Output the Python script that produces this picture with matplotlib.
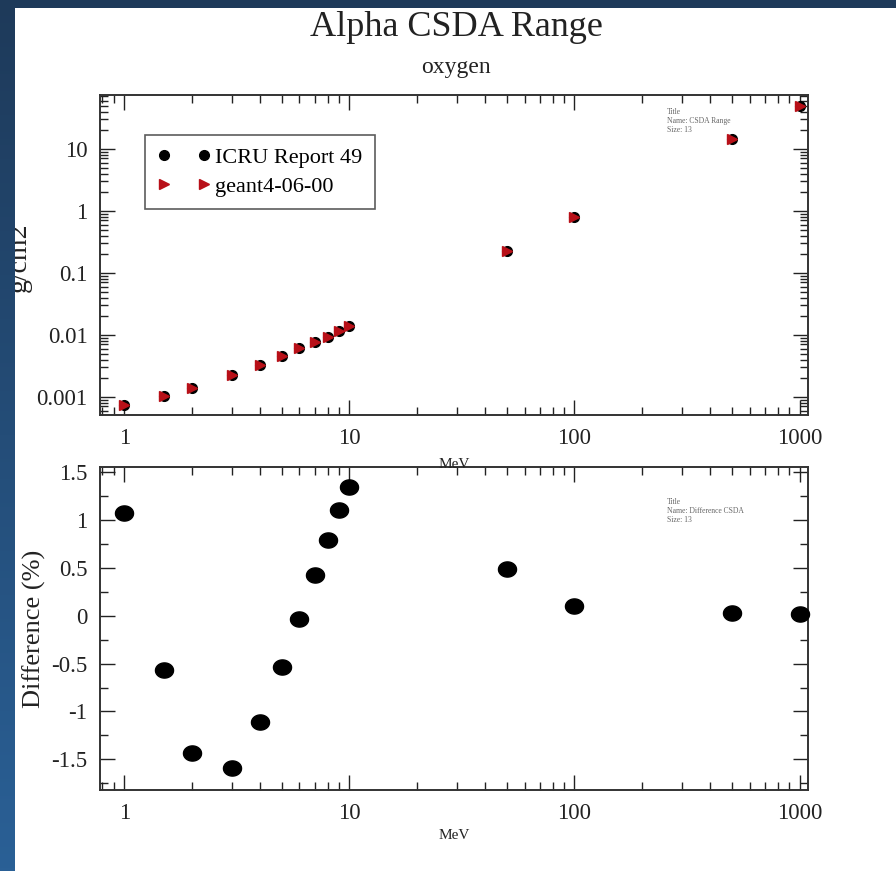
import numpy as np
import matplotlib
matplotlib.use("Agg")
import matplotlib.pyplot as plt
from matplotlib.ticker import FixedLocator, FixedFormatter, NullFormatter
from matplotlib.path import Path
from matplotlib.colors import LinearSegmentedColormap

plt.rcParams['font.family'] = ['Liberation Serif', 'DejaVu Serif']

# ---- data ----
energy = [1, 1.5, 2, 3, 4, 5, 6, 7, 8, 9, 10, 50, 100, 500, 1000]
icru_range = [7.4e-4, 1.04e-3, 1.41e-3, 2.26e-3, 3.28e-3, 4.63e-3, 6.1e-3,
              7.8e-3, 9.4e-3, 1.17e-2, 1.40e-2, 0.226, 0.80, 14.5, 49.0]
geant_range = [7.4e-4, 1.04e-3, 1.41e-3, 2.26e-3, 3.28e-3, 4.63e-3, 6.1e-3,
               7.8e-3, 9.4e-3, 1.17e-2, 1.40e-2, 0.226, 0.80, 14.5, 49.0]
difference = [1.07, -0.57, -1.43, -1.59, -1.11, -0.54, -0.03, 0.42, 0.79,
              1.10, 1.34, 0.49, 0.10, 0.03, 0.02]

x_major = [1, 10, 100, 1000]
x_labels = ["1", "10", "100", "1000"]
y_top_major = [0.001, 0.01, 0.1, 1, 10]
y_top_labels = ["0.001", "0.01", "0.1", "1", "10"]
y_bot_major = [-1.5, -1, -0.5, 0, 0.5, 1, 1.5]
y_bot_labels = ["-1.5", "-1", "-0.5", "0", "0.5", "1", "1.5"]

W, H = 896, 871
fig = plt.figure(figsize=(W / 100, H / 100), dpi=100)
fig.patch.set_facecolor('white')


def px(x0, y0, x1, y1):
    return [x0 / W, 1 - y1 / H, (x1 - x0) / W, (y1 - y0) / H]


x_minor = [m * 10 ** d for d in range(-1, 4) for m in range(2, 10)]

ax1 = fig.add_axes(px(100, 95, 808, 415), zorder=2)
ax2 = fig.add_axes(px(100, 467, 808, 790), zorder=1)
ax1.patch.set_alpha(0)
ax2.patch.set_alpha(0)

for ax in (ax1, ax2):
    ax.set_xscale('log')
    ax.set_xlim(0.78, 1090)
    ax.xaxis.set_major_locator(FixedLocator(x_major))
    ax.xaxis.set_major_formatter(FixedFormatter(x_labels))
    ax.xaxis.set_minor_locator(FixedLocator(x_minor))
    ax.xaxis.set_minor_formatter(NullFormatter())
    ax.tick_params(which='both', direction='in', top=True, right=True,
                   labelsize=16.5, colors='#222222', width=1.0)
    ax.tick_params(which='major', length=11, pad=9)
    ax.tick_params(which='minor', length=6)
    for s in ax.spines.values():
        s.set_linewidth(1.4)
        s.set_color('#333333')
    ax.set_xlabel('MeV', fontsize=11, labelpad=4, color='#222222')

# ---- top panel ----
ax1.set_yscale('log')
ax1.set_ylim(5.1e-4, 74)
ax1.yaxis.set_major_locator(FixedLocator(y_top_major))
ax1.yaxis.set_major_formatter(FixedFormatter(y_top_labels))
y_minor = [m * 10 ** d for d in range(-4, 2) for m in range(2, 10)]
ax1.yaxis.set_minor_locator(FixedLocator(y_minor))
ax1.yaxis.set_minor_formatter(NullFormatter())
ax1.xaxis.labelpad = 7

ax1.plot(energy, icru_range, linestyle='none', marker='o', ms=7,
         color='black', label='ICRU Report 49', zorder=3, clip_on=False)
ax1.plot(energy, geant_range, linestyle='none', marker='>', ms=6.5,
         color='#b81018', label='geant4-06-00', zorder=4, clip_on=False)

leg = ax1.legend(loc='upper left', bbox_to_anchor=(0.0636, 0.875),
                 borderaxespad=0, numpoints=2, handlelength=2.4,
                 fancybox=False, fontsize=16, handletextpad=0.2,
                 borderpad=0.55, labelspacing=0.4)
leg.get_frame().set_edgecolor('#333333')
leg.get_frame().set_linewidth(1.2)

ax1.text(0.801, 0.96, "Title\nName: CSDA Range\nSize: 13",
         transform=ax1.transAxes, fontsize=5.5, va='top', ha='left',
         color='#666666', linespacing=1.2)

# ---- bottom panel ----
t = np.linspace(0, 2 * np.pi, 60)
ellipse = Path(np.column_stack([np.cos(t), 0.84 * np.sin(t)]), closed=True)

ax2.set_ylim(-1.82, 1.552)
ax2.yaxis.set_major_locator(FixedLocator(y_bot_major))
ax2.yaxis.set_major_formatter(FixedFormatter(y_bot_labels))
ax2.yaxis.set_minor_locator(FixedLocator([-1.75, -1.25, -0.75, -0.25, 0.25, 0.75, 1.25]))
ax2.set_ylabel('Difference (%)', fontsize=19, labelpad=4, color='#222222')

ax2.plot(energy, difference, linestyle='none', marker=ellipse, ms=13,
         color='black', zorder=3, clip_on=False)

ax2.text(0.801, 0.905, "Title\nName: Difference CSDA\nSize: 13",
         transform=ax2.transAxes, fontsize=5.5, va='top', ha='left',
         color='#666666', linespacing=1.2)

# ---- titles ----
fig.text(456 / W, 1 - 27 / H, 'Alpha CSDA Range', fontsize=26,
         ha='center', va='center', color='#222222')
fig.text(456 / W, 1 - 68 / H, 'oxygen', fontsize=17,
         ha='center', va='center', color='#222222')

# top panel y-label, partly hidden under the blue strip
fig.text(19 / W, 1 - 257 / H, 'g/cm2', fontsize=20, rotation=90,
         ha='center', va='center', color='#222222')

# ---- background decorations ----
strip = fig.add_axes([0, 0, 14 / W, 1], zorder=10)
grad = np.linspace(0, 1, 256).reshape(-1, 1)
cmap = LinearSegmentedColormap.from_list('bg', ['#1e3a5a', '#2a6096'])
strip.imshow(grad, aspect='auto', cmap=cmap, extent=[0, 1, 0, 1], origin='upper')
strip.set_axis_off()

band = fig.add_axes([0, 1 - 8 / H, 1, 8 / H], zorder=10)
band.set_facecolor('#1e3a5a')
band.set_xticks([])
band.set_yticks([])
for s in band.spines.values():
    s.set_visible(False)

fig.savefig('out.png', dpi=100)
